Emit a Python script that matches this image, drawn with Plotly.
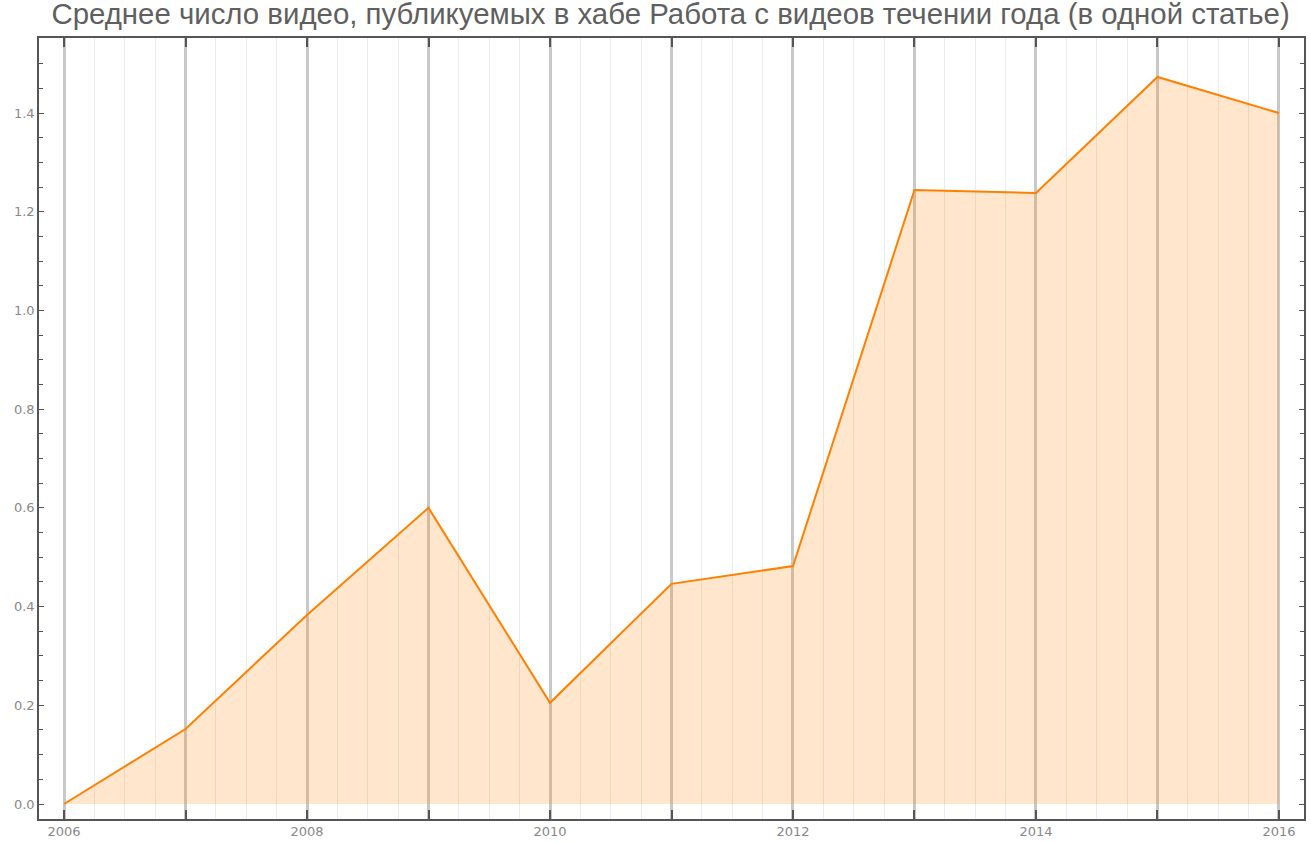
import plotly.graph_objects as go

years = [2006, 2007, 2008, 2009, 2010, 2011, 2012, 2013, 2014, 2015, 2016]
avg_videos = [0.0, 0.152, 0.383, 0.600, 0.205, 0.446, 0.482, 1.244, 1.238, 1.473, 1.400]
x_tick_vals = list(range(2006, 2017))
x_tick_text = [str(y) if y % 2 == 0 else "" for y in x_tick_vals]
title_text = "Среднее число видео, публикуемых в хабе Работа с видеов течении года (в одной статье)"

fig = go.Figure()
fig.add_trace(go.Scatter(
    x=years, y=avg_videos, mode="lines",
    line=dict(color="#FF8000", width=2),
    fill="tozeroy", fillcolor="rgba(255,128,0,0.2)",
    hoverinfo="x+y", showlegend=False,
))

fig.update_layout(
    width=1311, height=843,
    margin=dict(l=39, r=7, t=38, b=24, autoexpand=False),
    paper_bgcolor="white", plot_bgcolor="white",
    title=dict(text=title_text, x=0.5115, xanchor="center", y=0.984, yanchor="middle",
               automargin=False,
               font=dict(family="Liberation Sans, Arial, sans-serif", size=29.4, color="#5f5f5f")),
    font=dict(family="DejaVu Sans, sans-serif", size=13, color="#888888"),
)

fig.update_xaxes(
    range=[2005.794, 2016.206], automargin=False,
    tickvals=x_tick_vals, ticktext=x_tick_text,
    ticks="inside", ticklen=9, tickwidth=1.5, tickcolor="#555555",
    showline=True, linecolor="#555555", linewidth=1.5, mirror="ticks",
    showgrid=True, gridcolor="#c8c8c8", gridwidth=3,
    minor=dict(dtick=0.25, tick0=2006, showgrid=True, gridcolor="#ececec", gridwidth=1, ticks=""),
    zeroline=False,
    tickfont=dict(family="DejaVu Sans, sans-serif", size=13, color="#888888"),
)

fig.update_yaxes(
    range=[-0.0304, 1.552], automargin=False,
    tick0=0, dtick=0.2, tickformat=".1f",
    ticks="inside", ticklen=5, tickwidth=1, tickcolor="#555555",
    showline=True, linecolor="#555555", linewidth=1.5, mirror="ticks",
    showgrid=False, zeroline=False,
    minor=dict(dtick=0.05, tick0=0, ticks="inside", ticklen=4, tickcolor="#555555", showgrid=False),
    tickfont=dict(family="DejaVu Sans, sans-serif", size=13, color="#888888"),
)

# remove the browser's default 8px body margin so the figure fills the window exactly
fig.write_html("out.html", config={"displayModeBar": False},
               post_script="document.body.style.margin='0';")
